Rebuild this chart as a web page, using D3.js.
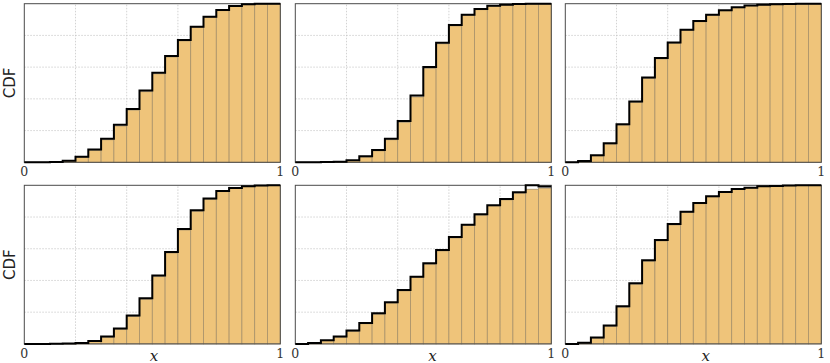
<!DOCTYPE html>
<html>
<head>
<meta charset="utf-8">
<script src="https://cdn.jsdelivr.net/npm/d3@7"></script>
<style>
  html, body { margin: 0; padding: 0; background: #fff; }
  svg { display: block; }
</style>
</head>
<body>
<svg id="chart" width="830" height="363"></svg>
<script>
// ---- data ----
const binEdges = [0, 0.05, 0.1, 0.15, 0.2, 0.25, 0.3, 0.35, 0.4, 0.45, 0.5,
                  0.55, 0.6, 0.65, 0.7, 0.75, 0.8, 0.85, 0.9, 0.95, 1];
const xTickLabels = ["0", "1"];
const gridValues = [0.2, 0.4, 0.6, 0.8];
const yLabel = "CDF";
const xLabel = "x";

// step-line CDF values per bin (one per panel)
const line1 = [0, 0, 0.002, 0.01, 0.035, 0.081, 0.148, 0.236, 0.336, 0.452, 0.565, 0.670, 0.771, 0.855, 0.918, 0.960, 0.985, 0.996, 1, 1];
const line2 = [0, 0, 0.002, 0.004, 0.013, 0.038, 0.078, 0.149, 0.26, 0.421, 0.601, 0.754, 0.866, 0.931, 0.966, 0.987, 0.994, 0.998, 1, 1];
const line3 = [0, 0.008, 0.045, 0.12, 0.24, 0.384, 0.534, 0.658, 0.756, 0.836, 0.891, 0.931, 0.958, 0.977, 0.989, 0.994, 0.996, 0.998, 1, 1];
const line4 = [0, 0, 0.001, 0.002, 0.006, 0.019, 0.046, 0.097, 0.179, 0.288, 0.431, 0.580, 0.725, 0.842, 0.916, 0.964, 0.983, 0.994, 0.998, 1];
const line5 = [0, 0.006, 0.023, 0.046, 0.084, 0.132, 0.193, 0.263, 0.340, 0.424, 0.508, 0.592, 0.674, 0.752, 0.817, 0.875, 0.914, 0.956, 1.0, 0.992];
const line6 = [0, 0.008, 0.040, 0.116, 0.237, 0.382, 0.527, 0.655, 0.756, 0.834, 0.889, 0.931, 0.958, 0.977, 0.985, 0.994, 0.996, 0.998, 1, 1];

// cumulative histogram bar heights per bin (one per panel)
const bars1 = [0, 0, 0.001, 0.007, 0.03, 0.075, 0.142, 0.229, 0.329, 0.445, 0.558, 0.664, 0.765, 0.85, 0.913, 0.956, 0.982, 0.994, 0.998, 1];
const bars2 = [0, 0, 0.001, 0.003, 0.01, 0.033, 0.072, 0.142, 0.252, 0.412, 0.592, 0.747, 0.86, 0.926, 0.962, 0.984, 0.992, 0.997, 0.999, 1];
const bars3 = [0, 0.006, 0.04, 0.114, 0.234, 0.378, 0.528, 0.652, 0.75, 0.831, 0.886, 0.927, 0.955, 0.974, 0.987, 0.992, 0.995, 0.997, 0.999, 1];
const bars4 = [0, 0, 0, 0.001, 0.004, 0.016, 0.042, 0.092, 0.173, 0.281, 0.424, 0.573, 0.718, 0.836, 0.911, 0.96, 0.98, 0.992, 0.997, 1];
const bars5 = [0, 0.004, 0.02, 0.042, 0.079, 0.127, 0.187, 0.257, 0.334, 0.418, 0.502, 0.586, 0.668, 0.746, 0.811, 0.870, 0.908, 0.950, 0.975, 0.982];
const bars6 = [0, 0.006, 0.036, 0.11, 0.231, 0.376, 0.521, 0.649, 0.75, 0.829, 0.884, 0.927, 0.955, 0.974, 0.983, 0.992, 0.995, 0.997, 0.999, 1];

const panels = [
  {line: line1, bars: bars1, row: 0, col: 0},
  {line: line2, bars: bars2, row: 0, col: 1},
  {line: line3, bars: bars3, row: 0, col: 2},
  {line: line4, bars: bars4, row: 1, col: 0},
  {line: line5, bars: bars5, row: 1, col: 1},
  {line: line6, bars: bars6, row: 1, col: 2}
];

// ---- layout ----
const colX = [24.3, 295.3, 565.3];
const rowY = [3.7, 185.3];
const pw = 256, ph = 158.6;
const xLabelX = [154, 432.6, 705.8];

const svg = d3.select("#chart");

panels.forEach(p => {
  const x0 = colX[p.col], y0 = rowY[p.row];
  const x = d3.scaleLinear().domain([0, 1]).range([x0, x0 + pw]);
  const y = d3.scaleLinear().domain([0, 1]).range([y0 + ph, y0]);
  const g = svg.append("g");

  // grid
  g.selectAll("line.gx").data(gridValues).join("line")
    .attr("x1", d => x(d)).attr("x2", d => x(d))
    .attr("y1", y(0)).attr("y2", y(1))
    .attr("stroke", "#c8c8c8").attr("stroke-width", 0.8)
    .attr("stroke-dasharray", "1.5,1.5");
  g.selectAll("line.gy").data(gridValues).join("line")
    .attr("x1", x(0)).attr("x2", x(1))
    .attr("y1", d => y(d)).attr("y2", d => y(d))
    .attr("stroke", "#c8c8c8").attr("stroke-width", 0.8)
    .attr("stroke-dasharray", "1.5,1.5");

  // bars
  const bins = p.bars.map((v, i) => ({x0: binEdges[i], x1: binEdges[i + 1], v}));
  g.selectAll("rect.bar").data(bins.filter(b => b.v > 0)).join("rect")
    .attr("x", d => x(d.x0)).attr("width", d => x(d.x1) - x(d.x0))
    .attr("y", d => y(d.v)).attr("height", d => y(0) - y(d.v))
    .attr("fill", "#efc47a")
    .attr("stroke", "#a8926a").attr("stroke-width", 0.8);

  // frame
  g.append("rect")
    .attr("x", x(0)).attr("y", y(1))
    .attr("width", x(1) - x(0)).attr("height", y(0) - y(1))
    .attr("fill", "none").attr("stroke", "#4a4a4a").attr("stroke-width", 1);

  // step line
  const pts = p.line.map((v, i) => [binEdges[i], v]);
  pts.push([binEdges[binEdges.length - 1], p.line[p.line.length - 1]]);
  g.append("path")
    .attr("d", d3.line().x(d => x(d[0])).y(d => y(d[1])).curve(d3.curveStepAfter)(pts))
    .attr("fill", "none").attr("stroke", "#000").attr("stroke-width", 2)
    .attr("stroke-linejoin", "miter");

  // tick labels
  g.selectAll("text.tick").data([0, 1]).join("text")
    .attr("x", d => x(d)).attr("y", y(0) + 14)
    .attr("text-anchor", "middle")
    .attr("font-family", "'DejaVu Serif', serif")
    .attr("font-size", 12.5).attr("fill", "#333")
    .text((d, i) => xTickLabels[i]);

  if (p.col === 0) {
    const cy = y0 + ph / 2;
    g.append("text")
      .attr("transform", `translate(15,${cy}) rotate(-90)`)
      .attr("text-anchor", "middle")
      .attr("font-family", "'DejaVu Sans', sans-serif")
      .attr("font-size", 15).attr("fill", "#222")
      .text(yLabel);
  }
  if (p.row === 1) {
    g.append("text")
      .attr("x", xLabelX[p.col]).attr("y", 360.5)
      .attr("text-anchor", "middle")
      .attr("font-family", "'DejaVu Serif', serif")
      .attr("font-style", "italic")
      .attr("font-size", 15).attr("fill", "#222")
      .text(xLabel);
  }
});
</script>
</body>
</html>
